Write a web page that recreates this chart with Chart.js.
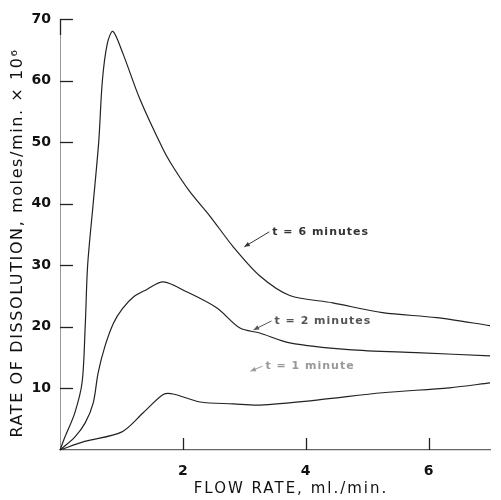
<!DOCTYPE html>
<html>
<head>
<meta charset="utf-8">
<script src="https://cdn.jsdelivr.net/npm/chart.js@4/dist/chart.umd.min.js"></script>
<style>
  html, body { margin: 0; background: #fff; }
  #wrap { width: 501px; height: 500px; }
</style>
</head>
<body>
<div id="wrap"><canvas id="chart"></canvas></div>
<script>
// readings taken off the scanned figure
const flow6 = [0, 0.08, 0.24, 0.36, 0.41, 0.45, 0.54, 0.63, 0.69, 0.77, 0.86, 1.02, 1.3, 1.68, 1.84, 2.11, 2.44, 2.82, 3.25, 3.74, 4.44, 5.25, 6.13, 7];
const rate6 = [0, 2.1, 6, 11, 20, 30, 40, 50, 60, 66, 68, 64.5, 57, 48.8, 46, 42, 38, 33, 28.3, 25.1, 23.9, 22.3, 21.5, 20.2];

const flow2 = [0, 0.24, 0.41, 0.54, 0.62, 0.73, 0.87, 1.02, 1.2, 1.4, 1.68, 2.06, 2.55, 2.93, 3.25, 3.74, 4.7, 5.8, 7];
const rate2 = [0, 2.1, 4.4, 7.6, 12.5, 16.8, 20.6, 23, 24.9, 26, 27.3, 25.7, 23.1, 19.8, 19, 17.4, 16.3, 15.8, 15.3];

const flow1 = [0, 0.4, 1.0, 1.35, 1.68, 1.84, 2.28, 2.82, 3.25, 4.18, 5.25, 6.34, 7];
const rate1 = [0, 1.4, 2.9, 6, 9, 9.1, 7.8, 7.5, 7.3, 8.1, 9.3, 10.1, 10.9];

const xTicks = [2, 4, 6];
const yTicks = [10, 20, 30, 40, 50, 60, 70];

const xTitle = "FLOW RATE, ml./min.";
const yTitle = "RATE OF DISSOLUTION, moles/min. \u00d7 10\u2076";
const curveLabels = ["t = 6 minutes", "t = 2 minutes", "t = 1 minute"];

function pairs(xs, ys) {
  return xs.map((x, i) => ({ x: x, y: ys[i] }));
}

function curve(xs, ys) {
  return {
    data: pairs(xs, ys),
    borderColor: "#222",
    borderWidth: 1.2,
    pointRadius: 0,
    showLine: true,
    fill: false,
    tension: 0.3
  };
}

// spaced-out text, the scan has wide letters
function spacedText(ctx, text, x, y, spacing) {
  ctx.letterSpacing = spacing + "px";
  ctx.fillText(text, x, y);
  ctx.letterSpacing = "0px";
}

// inner tick marks, corner at 70, axis titles and the little arrowed labels
const decorations = {
  id: "decorations",
  afterDraw(chart) {
    const ctx = chart.ctx;
    const xs = chart.scales.x;
    const ys = chart.scales.y;
    const left = chart.chartArea.left;
    const bottom = chart.chartArea.bottom;
    ctx.save();
    ctx.strokeStyle = "#222";
    ctx.lineWidth = 1.3;
    yTicks.forEach(v => {
      const py = Math.round(ys.getPixelForValue(v)) + 0.5;
      ctx.beginPath();
      ctx.moveTo(left, py);
      ctx.lineTo(left + 13, py);
      ctx.stroke();
    });
    const top = ys.getPixelForValue(70);
    ctx.beginPath();
    ctx.moveTo(left + 0.5, top + 16);
    ctx.lineTo(left + 0.5, top);
    ctx.stroke();
    xTicks.forEach(v => {
      const px = Math.round(xs.getPixelForValue(v)) + 0.5;
      ctx.beginPath();
      ctx.moveTo(px, bottom);
      ctx.lineTo(px, bottom - 12);
      ctx.stroke();
    });

    // axis titles
    ctx.fillStyle = "#111";
    ctx.font = "15px 'DejaVu Sans'";
    ctx.textAlign = "center";
    ctx.textBaseline = "middle";
    spacedText(ctx, xTitle, 291, 489, 2);
    ctx.save();
    ctx.translate(18, 243);
    ctx.rotate(-Math.PI / 2);
    ctx.font = "16px 'DejaVu Sans'";
    spacedText(ctx, yTitle, 0, 0, 1.6);
    ctx.restore();

    const marks = [
      { x: 3.0, y: 33, dx: 25, dy: -15, colour: "#333" },
      { x: 3.15, y: 19.5, dx: 18, dy: -9, colour: "#555" },
      { x: 3.1, y: 12.8, dx: 12, dy: -5, colour: "#999" }
    ];
    ctx.font = "bold 11px 'DejaVu Sans'";
    ctx.textAlign = "left";
    ctx.textBaseline = "middle";
    marks.forEach((m, i) => {
      const tx = xs.getPixelForValue(m.x);
      const ty = ys.getPixelForValue(m.y);
      const sx = tx + m.dx, sy = ty + m.dy;
      ctx.strokeStyle = m.colour;
      ctx.fillStyle = m.colour;
      ctx.lineWidth = 1;
      ctx.beginPath();
      ctx.moveTo(sx, sy);
      ctx.lineTo(tx, ty);
      ctx.stroke();
      const a = Math.atan2(ty - sy, tx - sx);
      ctx.beginPath();
      ctx.moveTo(tx, ty);
      ctx.lineTo(tx - 6 * Math.cos(a - 0.4), ty - 6 * Math.sin(a - 0.4));
      ctx.lineTo(tx - 6 * Math.cos(a + 0.4), ty - 6 * Math.sin(a + 0.4));
      ctx.closePath();
      ctx.fill();
      spacedText(ctx, curveLabels[i], sx + 3, sy, 1);
    });
    ctx.restore();
  }
};

new Chart(document.getElementById("chart"), {
  type: "scatter",
  data: {
    datasets: [curve(flow6, rate6), curve(flow2, rate2), curve(flow1, rate1)]
  },
  options: {
    responsive: true,
    maintainAspectRatio: false,
    animation: false,
    layout: { padding: { top: 19, right: 11, left: 0, bottom: 0 } },
    plugins: { legend: { display: false }, tooltip: { enabled: false } },
    scales: {
      x: {
        type: "linear",
        min: 0,
        max: 7,
        afterBuildTicks: s => { s.ticks = xTicks.map(v => ({ value: v })); },
        afterFit: s => { s.height = 50; },
        grid: { display: false, drawTicks: false },
        border: { display: true, color: "#666", width: 1.2, dash: [14, 6] },
        ticks: { color: "#111", padding: 13, font: { family: "DejaVu Sans", size: 14, weight: "bold" } }
      },
      y: {
        type: "linear",
        min: 0,
        max: 70,
        afterBuildTicks: s => { s.ticks = yTicks.map(v => ({ value: v })); },
        afterFit: s => { s.width = 60; },
        grid: { display: false, drawTicks: false },
        border: { display: true, color: "#999", width: 1, dash: [2, 3] },
        ticks: { color: "#111", padding: 9, font: { family: "DejaVu Sans", size: 14, weight: "bold" } }
      }
    }
  },
  plugins: [decorations]
});
</script>
</body>
</html>
